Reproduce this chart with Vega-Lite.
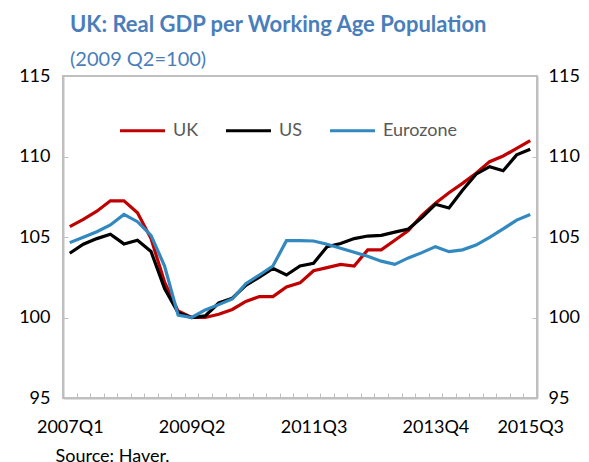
{
  "$schema": "https://vega.github.io/schema/vega-lite/v6.json",
  "width": 474,
  "height": 322,
  "autosize": {"type": "none"},
  "padding": {"left": 63, "top": 76, "right": 52, "bottom": 64},
  "background": "white",
  "title": {
    "text": "UK: Real GDP per Working Age Population",
    "subtitle": "(2009 Q2=100)",
    "anchor": "start",
    "frame": "group",
    "dx": 7,
    "offset": -4,
    "font": "Lato",
    "fontSize": 22,
    "fontWeight": "bold",
    "color": "#4A7EBB",
    "subtitleFont": "Lato",
    "subtitleFontSize": 20,
    "subtitleColor": "#4A7EBB",
    "subtitlePadding": 13
  },
  "config": {
    "view": {"stroke": "#BFBFBF", "strokeWidth": 2},
    "font": "Lato"
  },
  "data": {
    "values": [
      {"q":"2007Q1","s":"UK","v":105.64},{"q":"2007Q2","s":"UK","v":106.1},{"q":"2007Q3","s":"UK","v":106.6},{"q":"2007Q4","s":"UK","v":107.25},
      {"q":"2008Q1","s":"UK","v":107.25},{"q":"2008Q2","s":"UK","v":106.5},{"q":"2008Q3","s":"UK","v":104.9},{"q":"2008Q4","s":"UK","v":102.2},
      {"q":"2009Q1","s":"UK","v":100.4},{"q":"2009Q2","s":"UK","v":100.0},{"q":"2009Q3","s":"UK","v":100.0},{"q":"2009Q4","s":"UK","v":100.2},
      {"q":"2010Q1","s":"UK","v":100.5},{"q":"2010Q2","s":"UK","v":101.0},{"q":"2010Q3","s":"UK","v":101.3},{"q":"2010Q4","s":"UK","v":101.3},
      {"q":"2011Q1","s":"UK","v":101.9},{"q":"2011Q2","s":"UK","v":102.15},{"q":"2011Q3","s":"UK","v":102.9},{"q":"2011Q4","s":"UK","v":103.1},
      {"q":"2012Q1","s":"UK","v":103.3},{"q":"2012Q2","s":"UK","v":103.2},{"q":"2012Q3","s":"UK","v":104.2},{"q":"2012Q4","s":"UK","v":104.2},
      {"q":"2013Q1","s":"UK","v":104.8},{"q":"2013Q2","s":"UK","v":105.4},{"q":"2013Q3","s":"UK","v":106.35},{"q":"2013Q4","s":"UK","v":107.1},
      {"q":"2014Q1","s":"UK","v":107.75},{"q":"2014Q2","s":"UK","v":108.33},{"q":"2014Q3","s":"UK","v":108.96},{"q":"2014Q4","s":"UK","v":109.68},
      {"q":"2015Q1","s":"UK","v":110.03},{"q":"2015Q2","s":"UK","v":110.5},{"q":"2015Q3","s":"UK","v":110.98},
      {"q":"2007Q1","s":"US","v":103.99},{"q":"2007Q2","s":"US","v":104.55},{"q":"2007Q3","s":"US","v":104.9},{"q":"2007Q4","s":"US","v":105.17},
      {"q":"2008Q1","s":"US","v":104.57},{"q":"2008Q2","s":"US","v":104.8},{"q":"2008Q3","s":"US","v":104.1},{"q":"2008Q4","s":"US","v":101.8},
      {"q":"2009Q1","s":"US","v":100.3},{"q":"2009Q2","s":"US","v":100.0},{"q":"2009Q3","s":"US","v":100.1},{"q":"2009Q4","s":"US","v":100.9},
      {"q":"2010Q1","s":"US","v":101.2},{"q":"2010Q2","s":"US","v":102.0},{"q":"2010Q3","s":"US","v":102.5},{"q":"2010Q4","s":"US","v":103.05},
      {"q":"2011Q1","s":"US","v":102.64},{"q":"2011Q2","s":"US","v":103.2},{"q":"2011Q3","s":"US","v":103.37},{"q":"2011Q4","s":"US","v":104.4},
      {"q":"2012Q1","s":"US","v":104.6},{"q":"2012Q2","s":"US","v":104.9},{"q":"2012Q3","s":"US","v":105.06},{"q":"2012Q4","s":"US","v":105.1},
      {"q":"2013Q1","s":"US","v":105.3},{"q":"2013Q2","s":"US","v":105.5},{"q":"2013Q3","s":"US","v":106.2},{"q":"2013Q4","s":"US","v":107.03},
      {"q":"2014Q1","s":"US","v":106.8},{"q":"2014Q2","s":"US","v":107.9},{"q":"2014Q3","s":"US","v":108.9},{"q":"2014Q4","s":"US","v":109.37},
      {"q":"2015Q1","s":"US","v":109.12},{"q":"2015Q2","s":"US","v":110.1},{"q":"2015Q3","s":"US","v":110.45},
      {"q":"2007Q1","s":"Eurozone","v":104.65},{"q":"2007Q2","s":"Eurozone","v":104.98},{"q":"2007Q3","s":"Eurozone","v":105.33},{"q":"2007Q4","s":"Eurozone","v":105.75},
      {"q":"2008Q1","s":"Eurozone","v":106.4},{"q":"2008Q2","s":"Eurozone","v":105.95},{"q":"2008Q3","s":"Eurozone","v":105.1},{"q":"2008Q4","s":"Eurozone","v":103.2},
      {"q":"2009Q1","s":"Eurozone","v":100.15},{"q":"2009Q2","s":"Eurozone","v":100.0},{"q":"2009Q3","s":"Eurozone","v":100.47},{"q":"2009Q4","s":"Eurozone","v":100.8},
      {"q":"2010Q1","s":"Eurozone","v":101.15},{"q":"2010Q2","s":"Eurozone","v":102.1},{"q":"2010Q3","s":"Eurozone","v":102.64},{"q":"2010Q4","s":"Eurozone","v":103.2},
      {"q":"2011Q1","s":"Eurozone","v":104.77},{"q":"2011Q2","s":"Eurozone","v":104.77},{"q":"2011Q3","s":"Eurozone","v":104.75},{"q":"2011Q4","s":"Eurozone","v":104.55},
      {"q":"2012Q1","s":"Eurozone","v":104.3},{"q":"2012Q2","s":"Eurozone","v":104.05},{"q":"2012Q3","s":"Eurozone","v":103.8},{"q":"2012Q4","s":"Eurozone","v":103.5},
      {"q":"2013Q1","s":"Eurozone","v":103.3},{"q":"2013Q2","s":"Eurozone","v":103.7},{"q":"2013Q3","s":"Eurozone","v":104.03},{"q":"2013Q4","s":"Eurozone","v":104.4},
      {"q":"2014Q1","s":"Eurozone","v":104.09},{"q":"2014Q2","s":"Eurozone","v":104.2},{"q":"2014Q3","s":"Eurozone","v":104.5},{"q":"2014Q4","s":"Eurozone","v":104.98},
      {"q":"2015Q1","s":"Eurozone","v":105.5},{"q":"2015Q2","s":"Eurozone","v":106.05},{"q":"2015Q3","s":"Eurozone","v":106.4}
    ]
  },
  "layer": [
    {
      "mark": {"type": "line", "strokeWidth": 3.2, "strokeJoin": "miter"},
      "encoding": {
        "x": {
          "field": "q", "type": "ordinal", "sort": null,
          "scale": {"type": "band", "paddingInner": 0, "paddingOuter": 0},
          "axis": {
            "title": "Source: Haver.",
            "titleFont": "Lato", "titleFontSize": 18, "titleFontWeight": "normal", "titleColor": "#000000",
            "titleAnchor": "start", "titleAlign": "left", "titleX": -8, "titleY": 63, "titleBaseline": "alphabetic",
            "labelAngle": 0, "labelFont": "Lato", "labelFontSize": 18, "labelColor": "#000000",
            "labelOverlap": false, "labelPadding": 25,
            "labelExpr": "indexof(['2007Q1','2009Q2','2011Q3','2013Q4','2015Q3'], datum.value) >= 0 ? datum.value : ''",
            "tickBand": "extent", "tickSize": -5, "tickColor": "#BFBFBF", "tickWidth": 1,
            "domainColor": "#BFBFBF", "domainWidth": 2
          }
        },
        "y": {
          "field": "v", "type": "quantitative",
          "scale": {"domain": [95, 115], "nice": false, "zero": false},
          "axis": {
            "title": null, "values": [95, 100, 105, 110, 115], "grid": false,
            "labelFont": "Lato", "labelFontSize": 18, "labelColor": "#000000", "labelPadding": 18,
            "tickSize": -5, "tickColor": "#BFBFBF", "tickWidth": 1,
            "domainColor": "#BFBFBF", "domainWidth": 2, "orient": "left"
          }
        },
        "color": {
          "field": "s", "type": "nominal",
          "scale": {"domain": ["UK", "US", "Eurozone"], "range": ["#C00000", "#000000", "#3189BF"]},
          "legend": {
            "title": null, "orient": "none", "direction": "horizontal", "legendX": 55, "legendY": 30,
            "symbolType": "stroke", "symbolSize": 2025, "symbolStrokeWidth": 3.2,
            "labelFont": "Lato", "labelFontSize": 18, "labelColor": "#595959", "labelOffset": 6,
            "columnPadding": 20
          }
        }
      }
    },
    {
      "mark": {"type": "line", "opacity": 0},
      "encoding": {
        "x": {"field": "q", "type": "ordinal", "sort": null},
        "y": {
          "field": "v", "type": "quantitative",
          "scale": {"domain": [95, 115], "nice": false, "zero": false},
          "axis": {
            "title": null, "values": [95, 100, 105, 110, 115], "grid": false, "orient": "right",
            "labelFont": "Lato", "labelFontSize": 18, "labelColor": "#000000", "labelPadding": 16,
            "tickSize": -5, "tickColor": "#BFBFBF", "tickWidth": 1,
            "domainColor": "#BFBFBF", "domainWidth": 2
          }
        },
        "detail": {"field": "s"}
      }
    }
  ],
  "resolve": {"axis": {"y": "independent"}}
}
